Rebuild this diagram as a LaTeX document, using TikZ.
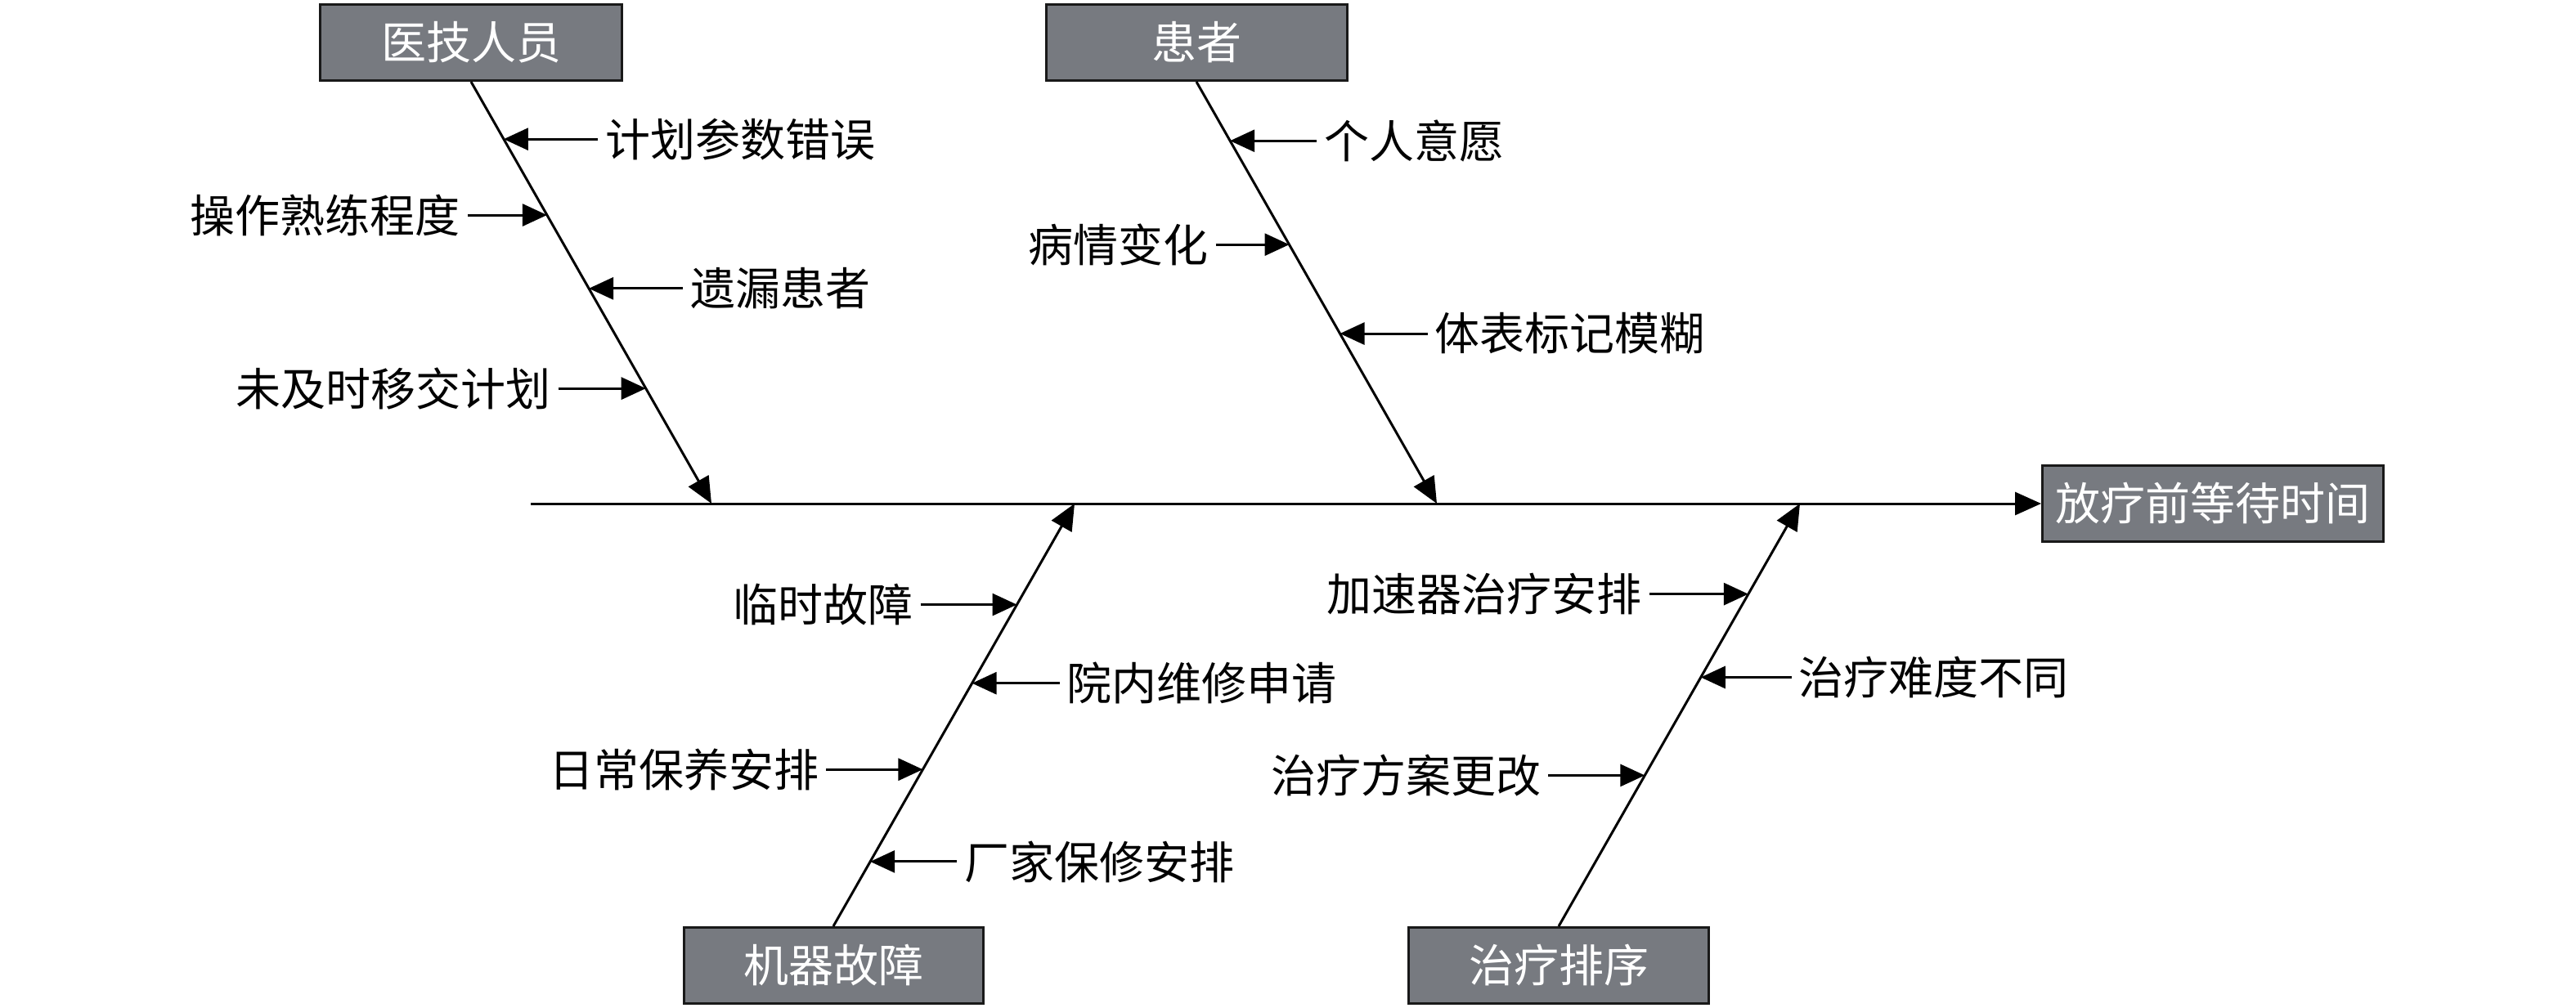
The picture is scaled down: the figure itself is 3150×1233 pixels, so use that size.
\documentclass[tikz,border=0pt]{standalone}
\usepackage{fontspec}
\newfontfamily\cjk{Noto Sans CJK SC}
\usetikzlibrary{positioning,arrows.meta}
\definecolor{boxgray}{RGB}{119,122,128}

\begin{document}
\begin{tikzpicture}[x=1pt,y=-1pt,
  causebox/.style={draw=black!90,line width=3pt,fill=boxgray,text=white,
    minimum height=93pt,inner sep=0pt,font=\cjk\fontsize{55}{60}\selectfont},
  sub/.style={inner sep=9pt,font=\cjk\fontsize{55}{60}\selectfont},
  bone/.style={line width=3pt,-{Triangle[length=32pt,width=28pt]}},
  subarrow/.style={line width=3pt,-{Triangle[length=30pt,width=27pt]}}]
\useasboundingbox (0,0) rectangle (3150,1233);

% Category boxes and the effect box
\node[causebox,minimum width=369pt] (staff) at (576,52) {医技人员};
\node[causebox,minimum width=368pt] (patient) at (1463,52) {患者};
\node[causebox,minimum width=366pt] (machine) at (1019,1181) {机器故障};
\node[causebox,minimum width=367pt] (sched) at (1906,1181) {治疗排序};
\node[causebox,minimum width=417pt] (effect) at (2706,616) {放疗前等待时间};

% Spine
\coordinate (spinestart) at (649,616);
\draw[bone] (spinestart) -- (effect.west);

% Main bones, meeting the spine
\coordinate (staffend) at (870,616);
\coordinate (patientend) at (1757,616);
\coordinate (machineend) at (1314,616);
\coordinate (schedend) at (2201,616);
\draw[bone] (staff.south) -- (staffend);
\draw[bone] (patient.south) -- (patientend);
\draw[bone] (machine.north) -- (machineend);
\draw[bone] (sched.north) -- (schedend);

% Points on the bones where the small arrows end
\path (staff.south) -- (staffend)
  coordinate[pos=.136] (st1) coordinate[pos=.316] (st2)
  coordinate[pos=.49] (st3) coordinate[pos=.727] (st4);
\path (patient.south) -- (patientend)
  coordinate[pos=.14] (pa1) coordinate[pos=.386] (pa2)
  coordinate[pos=.597] (pa3);
\path (machine.north) -- (machineend)
  coordinate[pos=.761] (ma1) coordinate[pos=.575] (ma2)
  coordinate[pos=.371] (ma3) coordinate[pos=.153] (ma4);
\path (sched.north) -- (schedend)
  coordinate[pos=.786] (sc1) coordinate[pos=.589] (sc2)
  coordinate[pos=.357] (sc3);

% Staff causes
\node[sub,right=115pt of st1] (plan) {计划参数错误};
\draw[subarrow] (plan) -- (st1);
\node[sub,left=97pt of st2] (skill) {操作熟练程度};
\draw[subarrow] (skill) -- (st2);
\node[sub,right=115pt of st3] (missed) {遗漏患者};
\draw[subarrow] (missed) -- (st3);
\node[sub,left=107pt of st4] (handover) {未及时移交计划};
\draw[subarrow] (handover) -- (st4);

% Patient causes
\node[sub,right=106pt of pa1] (wish) {个人意愿};
\draw[subarrow] (wish) -- (pa1);
\node[sub,left=90pt of pa2] (illness) {病情变化};
\draw[subarrow] (illness) -- (pa2);
\node[sub,right=107pt of pa3] (marks) {体表标记模糊};
\draw[subarrow] (marks) -- (pa3);

% Machine causes
\node[sub,left=118pt of ma1] (fault) {临时故障};
\draw[subarrow] (fault) -- (ma1);
\node[sub,right=107pt of ma2] (repair) {院内维修申请};
\draw[subarrow] (repair) -- (ma2);
\node[sub,left=118pt of ma3] (upkeep) {日常保养安排};
\draw[subarrow] (upkeep) -- (ma3);
\node[sub,right=106pt of ma4] (vendor) {厂家保修安排};
\draw[subarrow] (vendor) -- (ma4);

% Scheduling causes
\node[sub,left=121pt of sc1] (linac) {加速器治疗安排};
\draw[subarrow] (linac) -- (sc1);
\node[sub,right=111pt of sc2] (difficulty) {治疗难度不同};
\draw[subarrow] (difficulty) -- (sc2);
\node[sub,left=118pt of sc3] (change) {治疗方案更改};
\draw[subarrow] (change) -- (sc3);
\end{tikzpicture}
\end{document}
